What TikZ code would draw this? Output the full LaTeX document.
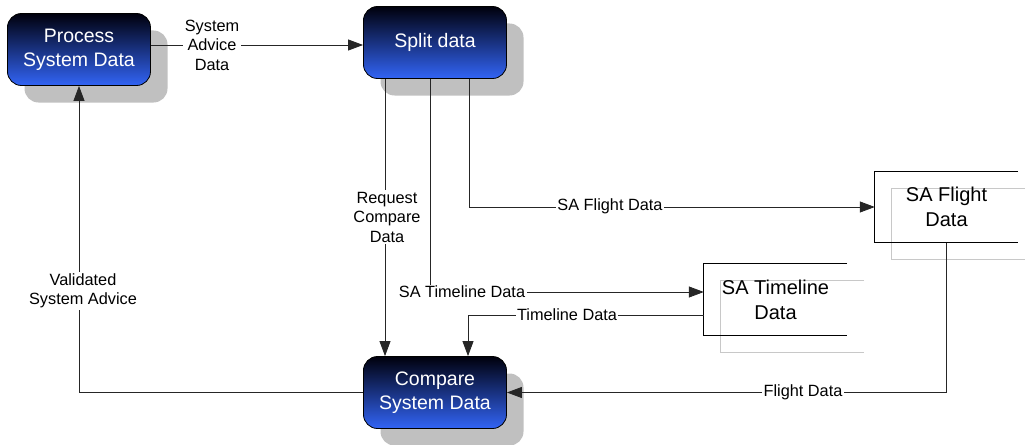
\documentclass[tikz,border=0pt]{standalone}
\usepackage{fontspec}
\setmainfont{Liberation Sans}
\usetikzlibrary{arrows.meta,shadows,backgrounds}
\definecolor{boxtop}{RGB}{0,0,12}
\definecolor{boxbot}{RGB}{50,100,245}
\definecolor{shadowgray}{RGB}{192,192,192}
\definecolor{storegray}{RGB}{200,200,200}
\begin{document}
\begin{tikzpicture}[x=1pt,y=-1pt,
  proc/.style={rounded corners=14pt, minimum width=143pt, minimum height=72pt,
    draw=black, line width=0.8pt, top color=boxtop, bottom color=boxbot,
    text=white, font=\fontsize{19.5}{24}\selectfont, align=center, inner sep=0pt,
    drop shadow={shadow xshift=17pt, shadow yshift=-17pt, fill=shadowgray, opacity=1}},
  store/.style={minimum width=143pt, minimum height=71pt, inner sep=0pt,
    font=\fontsize{20}{25}\selectfont, align=center},
  storeline/.style={draw=black, line width=0.8pt},
  storeback/.style={draw=storegray, line width=0.8pt},
  flow/.style={draw=black!85, line width=0.8pt, -{Triangle[length=15pt,width=11pt]}},
  lab/.style={fill=white, inner sep=1.5pt, font=\fontsize{16.3}{19.5}\selectfont, align=center}]
\useasboundingbox (0,0) rectangle (1027,444);

% process nodes
\node[proc] (P) at (79,49.5) {Process\\System Data};
\node[proc] (S) at (435,42.5) {Split data};
\node[proc] (C) at (435,392.5) {Compare\\System Data};

% data stores
\node[store] (F) at (946.5,207) {SA Flight\\Data};
\node[store] (T) at (775.5,299.5) {SA Timeline\\Data};
\begin{scope}[on background layer]
  \draw[storeback] ([shift={(7,17)}]F.north east) -| ([shift={(17,17)}]F.south west) -- ([shift={(7,17)}]F.south east);
  \draw[storeline] (F.north east) -| (F.south west) -- (F.south east);
  \draw[storeback] ([shift={(17,17)}]T.north east) -| ([shift={(17,17)}]T.south west) -- ([shift={(17,17)}]T.south east);
  \draw[storeline] (T.north east) -| (T.south west) -- (T.south east);
\end{scope}

% helper coordinates
\coordinate (a1) at ([yshift=4.5pt]P.east);
\coordinate (xr) at (385,0);
\coordinate (xt) at (430,0);
\coordinate (xf) at (469,0);
\coordinate (xd) at (468,0);
\coordinate (tin) at ([yshift=7.5pt]T.west);
\coordinate (tout) at ([yshift=-15.5pt]T.west);

% connectors
\draw[flow] (a1) -- (a1 -| S.west);
\draw[flow] (xr |- S.south) -- (xr |- C.north);
\draw[flow] (xt |- S.south) |- (tin);
\draw[flow] (xf |- S.south) |- (F.west);
\draw[flow] (tout) -| (xd |- C.north);
\draw[flow] (F.south) |- (C.east);
\draw[flow] (C.west) -| (P.south);

% labels
\node[lab] (l1) at (212,45) {System\\Advice\\Data};
\node[lab] (l2) at (387,217) {Request\\Compare\\Data};
\node[lab] (l3) at (462,292) {SA Timeline Data};
\node[lab] (l4) at (610,206) {SA Flight Data};
\node[lab] (l5) at (567,315) {Timeline Data};
\node[lab] (l6) at (803,392.5) {Flight Data};
\node[lab] (l7) at (83,291) {Validated\\System Advice};
\end{tikzpicture}
\end{document}
